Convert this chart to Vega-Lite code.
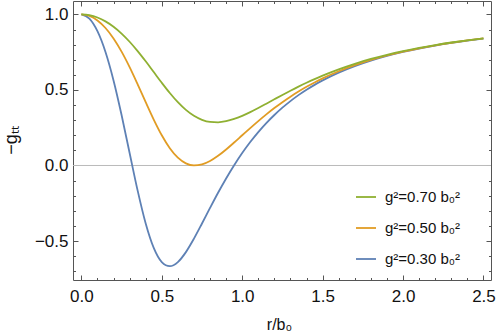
{
  "$schema": "https://vega.github.io/schema/vega-lite/v6.json",
  "width": 418,
  "height": 279,
  "autosize": {"type": "none"},
  "padding": {"left": 73, "top": 1, "right": 7, "bottom": 56},
  "background": "white",
  "config": {
    "font": "Liberation Sans",
    "view": {"stroke": "#555", "strokeWidth": 1},
    "axis": {"grid": false, "domain": false, "labelColor": "#111", "titleColor": "#111", "titleFontWeight": "normal", "tickColor": "#555", "tickWidth": 1}
  },
  "data": {
    "values": [
      {"r": 0.0, "p30": 1.0, "p50": 1.0, "p70": 1.0},
      {"r": 0.05, "p30": 0.9722, "p50": 0.99, "p70": 0.9949},
      {"r": 0.1, "p30": 0.889, "p50": 0.96, "p70": 0.9796},
      {"r": 0.15, "p30": 0.7514, "p50": 0.9102, "p70": 0.9541},
      {"r": 0.2, "p30": 0.5633, "p50": 0.841, "p70": 0.9186},
      {"r": 0.25, "p30": 0.3344, "p50": 0.7538, "p70": 0.8735},
      {"r": 0.3, "p30": 0.0826, "p50": 0.6513, "p70": 0.8193},
      {"r": 0.35, "p30": -0.1666, "p50": 0.5377, "p70": 0.7574},
      {"r": 0.4, "p30": -0.3841, "p50": 0.4194, "p70": 0.6897},
      {"r": 0.45, "p30": -0.5457, "p50": 0.3041, "p70": 0.6186},
      {"r": 0.5, "p30": -0.6393, "p50": 0.2, "p70": 0.5475},
      {"r": 0.55, "p30": -0.6666, "p50": 0.1142, "p70": 0.4798},
      {"r": 0.6, "p30": -0.6393, "p50": 0.0516, "p70": 0.419},
      {"r": 0.65, "p30": -0.5735, "p50": 0.014, "p70": 0.368},
      {"r": 0.7, "p30": -0.4844, "p50": 0.0002, "p70": 0.3289},
      {"r": 0.75, "p30": -0.3841, "p50": 0.0069, "p70": 0.3025},
      {"r": 0.8, "p30": -0.281, "p50": 0.0297, "p70": 0.2886},
      {"r": 0.85, "p30": -0.1805, "p50": 0.0641, "p70": 0.2861},
      {"r": 0.9, "p30": -0.0856, "p50": 0.1061, "p70": 0.2933},
      {"r": 0.95, "p30": 0.0022, "p50": 0.1522, "p70": 0.3082},
      {"r": 1.0, "p30": 0.0826, "p50": 0.2, "p70": 0.3289},
      {"r": 1.05, "p30": 0.1555, "p50": 0.2477, "p70": 0.3536},
      {"r": 1.1, "p30": 0.2214, "p50": 0.2941, "p70": 0.3808},
      {"r": 1.15, "p30": 0.2809, "p50": 0.3384, "p70": 0.4093},
      {"r": 1.2, "p30": 0.3344, "p50": 0.3803, "p70": 0.4383},
      {"r": 1.25, "p30": 0.3828, "p50": 0.4194, "p70": 0.467},
      {"r": 1.3, "p30": 0.4264, "p50": 0.4559, "p70": 0.4949},
      {"r": 1.35, "p30": 0.4658, "p50": 0.4897, "p70": 0.5218},
      {"r": 1.4, "p30": 0.5015, "p50": 0.521, "p70": 0.5475},
      {"r": 1.45, "p30": 0.5339, "p50": 0.5498, "p70": 0.5718},
      {"r": 1.5, "p30": 0.5633, "p50": 0.5765, "p70": 0.5948},
      {"r": 1.6, "p30": 0.6147, "p50": 0.6237, "p70": 0.6365},
      {"r": 1.7, "p30": 0.6577, "p50": 0.664, "p70": 0.6732},
      {"r": 1.8, "p30": 0.694, "p50": 0.6985, "p70": 0.7051},
      {"r": 1.9, "p30": 0.7249, "p50": 0.7282, "p70": 0.733},
      {"r": 2.0, "p30": 0.7514, "p50": 0.7538, "p70": 0.7574},
      {"r": 2.1, "p30": 0.7743, "p50": 0.7761, "p70": 0.7788},
      {"r": 2.2, "p30": 0.7942, "p50": 0.7956, "p70": 0.7976},
      {"r": 2.3, "p30": 0.8116, "p50": 0.8126, "p70": 0.8142},
      {"r": 2.4, "p30": 0.8269, "p50": 0.8277, "p70": 0.8289},
      {"r": 2.5, "p30": 0.8404, "p50": 0.841, "p70": 0.842}
    ]
  },
  "resolve": {"scale": {"x": "shared", "y": "shared"}, "axis": {"x": "independent", "y": "independent"}},
  "layer": [
    {
      "data": {"values": [{"y": 0}]},
      "mark": {"type": "rule", "color": "#bbbbbb", "strokeWidth": 1},
      "encoding": {
        "y": {"field": "y", "type": "quantitative", "axis": null, "scale": {"domain": [-0.758, 1.089], "nice": false, "zero": false}}
      }
    },
    {
      "mark": {"type": "point", "opacity": 0},
      "encoding": {
        "x": {"field": "r", "type": "quantitative", "axis": {"orient": "bottom", "values": [0.1,0.2,0.3,0.4,0.6,0.7,0.8,0.9,1.1,1.2,1.3,1.4,1.6,1.7,1.8,1.9,2.1,2.2,2.3,2.4], "labels": false, "tickSize": -2.5, "title": null}},
        "y": {"field": "p30", "type": "quantitative", "axis": {"orient": "left", "values": [-0.7,-0.6,-0.4,-0.3,-0.2,-0.1,0.1,0.2,0.3,0.4,0.6,0.7,0.8,0.9], "labels": false, "tickSize": -2.5, "title": null}}
      }
    },
    {
      "mark": {"type": "point", "opacity": 0},
      "encoding": {
        "x": {"field": "r", "type": "quantitative", "axis": {"orient": "top", "values": [0.1,0.2,0.3,0.4,0.6,0.7,0.8,0.9,1.1,1.2,1.3,1.4,1.6,1.7,1.8,1.9,2.1,2.2,2.3,2.4], "labels": false, "tickSize": -2.5, "title": null}},
        "y": {"field": "p30", "type": "quantitative", "axis": {"orient": "right", "values": [-0.7,-0.6,-0.4,-0.3,-0.2,-0.1,0.1,0.2,0.3,0.4,0.6,0.7,0.8,0.9], "labels": false, "tickSize": -2.5, "title": null}}
      }
    },
    {
      "mark": {"type": "point", "opacity": 0},
      "encoding": {
        "x": {"field": "r", "type": "quantitative", "axis": {"orient": "bottom", "values": [0,0.5,1,1.5,2,2.5], "labels": false, "tickSize": -5, "title": null}},
        "y": {"field": "p30", "type": "quantitative", "axis": {"orient": "left", "values": [-0.5,0,0.5,1], "labels": false, "tickSize": -5, "title": null}}
      }
    },
    {
      "mark": {"type": "point", "opacity": 0},
      "encoding": {
        "x": {"field": "r", "type": "quantitative", "axis": {"orient": "top", "values": [0,0.5,1,1.5,2,2.5], "labels": false, "tickSize": -5, "title": null}},
        "y": {"field": "p30", "type": "quantitative", "axis": {"orient": "right", "values": [-0.5,0,0.5,1], "labels": false, "tickSize": -5, "title": null}}
      }
    },
    {
      "transform": [{"fold": ["p30", "p50", "p70"], "as": ["key", "v"]}],
      "mark": {"type": "line", "interpolate": "monotone", "strokeWidth": 1.8},
      "encoding": {
        "x": {
          "field": "r", "type": "quantitative",
          "scale": {"domain": [-0.052, 2.547], "nice": false, "zero": false},
          "axis": {"orient": "bottom", "values": [0,0.5,1,1.5,2,2.5], "format": ".1f", "ticks": false, "labelFontSize": 17, "labelPadding": 8, "title": "r/b₀", "titleFontSize": 16, "titleX": 206, "titleY": 49, "titleBaseline": "alphabetic", "titleAlign": "center"}
        },
        "y": {
          "field": "v", "type": "quantitative",
          "axis": {"orient": "left", "values": [-0.5,0,0.5,1], "format": ".1f", "ticks": false, "labelFontSize": 17, "labelPadding": 5, "title": "−gₜₜ", "titleFontSize": 18, "titleX": -62, "titleY": 139, "titleAngle": -90, "titleBaseline": "middle", "titleAlign": "center"}
        },
        "color": {
          "field": "key", "type": "nominal",
          "scale": {"domain": ["p70", "p50", "p30"], "range": ["#8fb032", "#e19c24", "#5e81b5"]},
          "legend": {
            "title": null, "orient": "none", "legendX": 282, "legendY": 185,
            "symbolType": "stroke", "symbolSize": 400, "symbolStrokeWidth": 1.8,
            "labelFontSize": 15, "labelColor": "#111", "labelOffset": 8, "rowPadding": 12, "padding": 0,
            "labelExpr": "datum.label == 'p70' ? 'g²=0.70 b₀²' : datum.label == 'p50' ? 'g²=0.50 b₀²' : 'g²=0.30 b₀²'"
          }
        }
      }
    }
  ]
}
